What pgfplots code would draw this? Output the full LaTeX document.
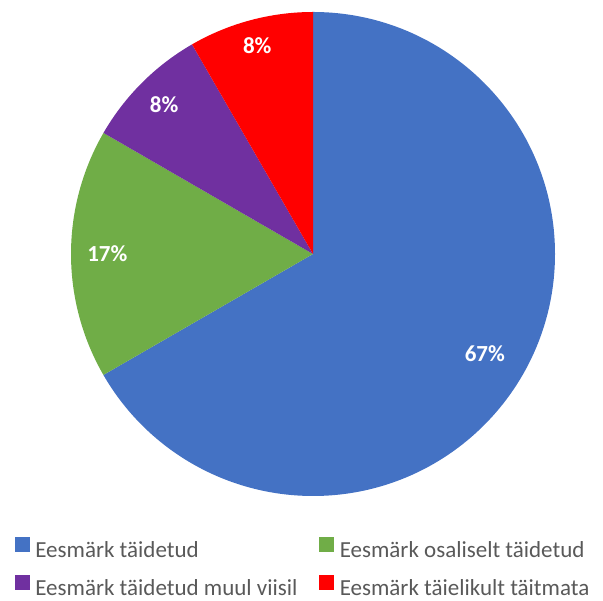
\documentclass[border=0pt]{standalone}
\usepackage{pgfplots}
\usepackage{pgfplotstable}
\pgfplotsset{compat=1.18}
\usepackage{fontspec}
\setmainfont{Carlito}
\definecolor{cblue}{HTML}{4472C4}
\definecolor{cgreen}{HTML}{70AD47}
\definecolor{cpurple}{HTML}{7030A0}
\definecolor{cred}{HTML}{FF0000}
\definecolor{legtext}{HTML}{595959}

\pgfplotstableread{
share colour labelr
66.67 cblue 0.82
16.67 cgreen 0.85
8.33 cpurple 0.87
8.33 cred 0.89
}\piedata

\newcommand\lblfont{\bfseries\fontsize{23}{27}\selectfont}
\def\slices{}
\def\cum{90}
\newcommand\buildslice[1]{%
  \pgfplotstablegetelem{#1}{share}\of\piedata \let\share\pgfplotsretval
  \pgfplotstablegetelem{#1}{colour}\of\piedata \let\col\pgfplotsretval
  \pgfplotstablegetelem{#1}{labelr}\of\piedata \let\lr\pgfplotsretval
  \pgfmathsetmacro\endang{\cum - 3.6*\share}%
  \pgfmathsetmacro\midang{(\cum+\endang)/2}%
  \pgfmathsetmacro\lx{\lr*cos(\midang)}%
  \pgfmathsetmacro\ly{\lr*sin(\midang)}%
  \pgfmathsetmacro\sx{cos(\cum)}%
  \pgfmathsetmacro\sy{sin(\cum)}%
  \pgfmathtruncatemacro\pct{round(\share)}%
  \xdef\slices{\unexpanded\expandafter{\slices}%
    \noexpand\fill[\col] (axis cs:0,0) -- (axis cs:\sx,\sy) arc[start angle=\cum, end angle=\endang, radius=242pt] -- cycle;%
    \noexpand\node[text=white, font=\noexpand\lblfont] at (axis cs:\lx,\ly) {\pct\noexpand\%};}%
  \xdef\cum{\endang}%
}
\buildslice{0}
\buildslice{1}
\buildslice{2}
\buildslice{3}

\begin{document}
\begin{tikzpicture}[x=1pt,y=1pt]
\useasboundingbox (0,0) rectangle (603,601);
\begin{axis}[
  at={(71pt,105pt)}, anchor=south west,
  scale only axis, width=484pt, height=484pt,
  xmin=-1, xmax=1, ymin=-1, ymax=1,
  axis lines=none, clip=false,
  legend columns=2,
  legend cell align=left,
  legend image code/.code={\fill[#1] (0pt,-1pt) rectangle (14pt,13pt);},
  legend style={
    draw=none, fill=none, inner sep=0pt, outer sep=0pt,
    at={(axis description cs:-0.1157,-0.085)}, anchor=north west,
    font=\fontsize{23}{27}\selectfont, text=legtext,
    row sep=16pt,
    /tikz/every odd column/.append style={column sep=6pt},
    /tikz/every even column/.append style={column sep=22pt},
    nodes={inner sep=0pt, outer sep=0pt},
  },
]
\slices
\addlegendimage{cblue}
\addlegendentry{Eesmärk täidetud}
\addlegendimage{cgreen}
\addlegendentry{Eesmärk osaliselt täidetud}
\addlegendimage{cpurple}
\addlegendentry{Eesmärk täidetud muul viisil}
\addlegendimage{cred}
\addlegendentry{Eesmärk täielikult täitmata}
\end{axis}
\end{tikzpicture}
\end{document}
